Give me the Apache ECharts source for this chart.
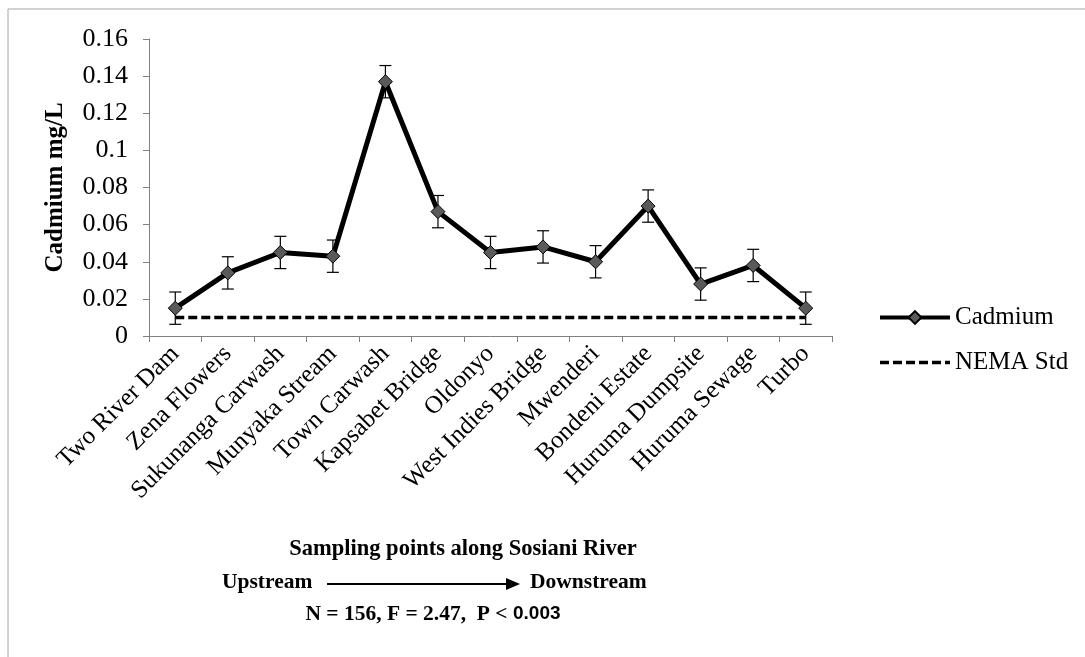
<!DOCTYPE html>
<html>
<head>
<meta charset="utf-8">
<script src="https://cdn.jsdelivr.net/npm/echarts@6/dist/echarts.min.js"></script>
<style>
html,body{margin:0;padding:0;background:#fff;}
#chart{width:1085px;height:657px;}
</style>
</head>
<body>
<div id="chart"></div>
<script>
var categories = ['Two River Dam','Zena Flowers','Sukunanga Carwash','Munyaka Stream','Town Carwash','Kapsabet Bridge','Oldonyo','West Indies Bridge','Mwenderi','Bondeni Estate','Huruma Dumpsite','Huruma Sewage','Turbo'];
var cadmium = [0.015,0.034,0.045,0.043,0.137,0.067,0.045,0.048,0.040,0.070,0.028,0.038,0.015];
var cadmiumErr = [0.0087,0.0087,0.0087,0.0087,0.0087,0.0087,0.0087,0.0087,0.0087,0.0087,0.0087,0.0087,0.0087];
var nemaStd = [0.01,0.01,0.01,0.01,0.01,0.01,0.01,0.01,0.01,0.01,0.01,0.01,0.01];
var yTicks = {min:0, max:0.16, interval:0.02};

var serif = '"Liberation Serif","Times New Roman",serif';
var chart = echarts.init(document.getElementById('chart'), null, {renderer:'canvas'});

var errData = categories.map(function(c,i){ return [i, cadmium[i]-cadmiumErr[i], cadmium[i]+cadmiumErr[i]]; });

var option = {
  backgroundColor:'#ffffff',
  animation:false,
  grid:{left:149, right:253, top:39, bottom:321, containLabel:false},
  legend:{
    orient:'vertical', left:873, top:300,
    itemWidth:70, itemHeight:16, itemGap:20,
    textStyle:{fontFamily:serif, fontSize:25, color:'#000', lineHeight:25},
    data:[
      {name:'Cadmium', lineStyle:{width:4}},
      {name:'NEMA Std', lineStyle:{width:3.5}, itemStyle:{opacity:0}}
    ]
  },
  xAxis:{
    type:'category', data:categories, boundaryGap:true,
    axisLine:{lineStyle:{color:'#808080', width:1}},
    axisTick:{show:true, alignWithLabel:false, length:6, lineStyle:{color:'#808080'}},
    axisLabel:{rotate:45, interval:0, margin:14, fontFamily:serif, fontSize:25, color:'#000'},
    splitLine:{show:false}
  },
  yAxis:{
    type:'value', min:yTicks.min, max:yTicks.max, interval:yTicks.interval,
    name:'Cadmium mg/L', nameLocation:'middle', nameGap:81,
    nameTextStyle:{fontFamily:serif, fontSize:25, fontWeight:'bold', color:'#000'},
    axisLine:{show:true, lineStyle:{color:'#808080', width:1}},
    axisTick:{show:true, length:6, lineStyle:{color:'#808080'}},
    axisLabel:{fontFamily:serif, fontSize:26, color:'#000', margin:21,
      formatter:function(v){ return String(+v.toFixed(2)); }},
    splitLine:{show:false}
  },
  series:[
    {
      name:'Error', type:'custom', z:1,
      renderItem:function(params, api){
        var x = api.value(0);
        var lo = api.coord([x, api.value(1)]);
        var hi = api.coord([x, api.value(2)]);
        var hw = 6;
        var st = {stroke:'#000', lineWidth:1.2};
        return {type:'group', children:[
          {type:'line', shape:{x1:lo[0], y1:lo[1], x2:hi[0], y2:hi[1]}, style:st},
          {type:'line', shape:{x1:lo[0]-hw, y1:lo[1], x2:lo[0]+hw, y2:lo[1]}, style:st},
          {type:'line', shape:{x1:hi[0]-hw, y1:hi[1], x2:hi[0]+hw, y2:hi[1]}, style:st}
        ]};
      },
      encode:{x:0, y:[1,2]},
      data:errData,
      silent:true
    },
    {
      name:'NEMA Std', type:'line', z:2, data:nemaStd,
      symbol:'none', showSymbol:false,
      lineStyle:{color:'#000', width:3.5, type:[9,4]},
      itemStyle:{color:'#000'}
    },
    {
      name:'Cadmium', type:'line', z:3, data:cadmium,
      symbol:'diamond', symbolSize:14,
      lineStyle:{color:'#000', width:5},
      itemStyle:{color:'#5a5a5a', borderColor:'#000', borderWidth:1}
    }
  ],
  graphic:[
    {type:'line', shape:{x1:8, y1:9, x2:1085, y2:9}, style:{stroke:'#a6a6a6', lineWidth:1}},
    {type:'line', shape:{x1:8, y1:9, x2:8, y2:657}, style:{stroke:'#a6a6a6', lineWidth:1}},
    {type:'text', x:463, y:549, style:{text:'Sampling points along Sosiani River', fontFamily:serif, fontSize:22.5, fontWeight:'bold', fill:'#000', textAlign:'center', textVerticalAlign:'middle'}},
    {type:'text', x:222, y:582, style:{text:'Upstream', fontFamily:serif, fontSize:21.5, fontWeight:'bold', fill:'#000', textAlign:'left', textVerticalAlign:'middle'}},
    {type:'line', shape:{x1:327, y1:584, x2:508, y2:584}, style:{stroke:'#000', lineWidth:2}},
    {type:'polygon', shape:{points:[[506,578],[520,584],[506,590]]}, style:{fill:'#000'}},
    {type:'text', x:530, y:582, style:{text:'Downstream', fontFamily:serif, fontSize:21.5, fontWeight:'bold', fill:'#000', textAlign:'left', textVerticalAlign:'middle'}},
    {type:'text', x:433, y:614, style:{
      text:'{a|N = 156, F = 2.47,  P < }{b|0.003}',
      textAlign:'center', textVerticalAlign:'middle',
      rich:{
        a:{fontFamily:serif, fontSize:21.5, fontWeight:'bold', fill:'#000'},
        b:{fontFamily:'"Liberation Sans",Arial,sans-serif', fontSize:19, fontWeight:'bold', fill:'#000'}
      }
    }}
  ]
};
chart.setOption(option);
</script>
</body>
</html>
